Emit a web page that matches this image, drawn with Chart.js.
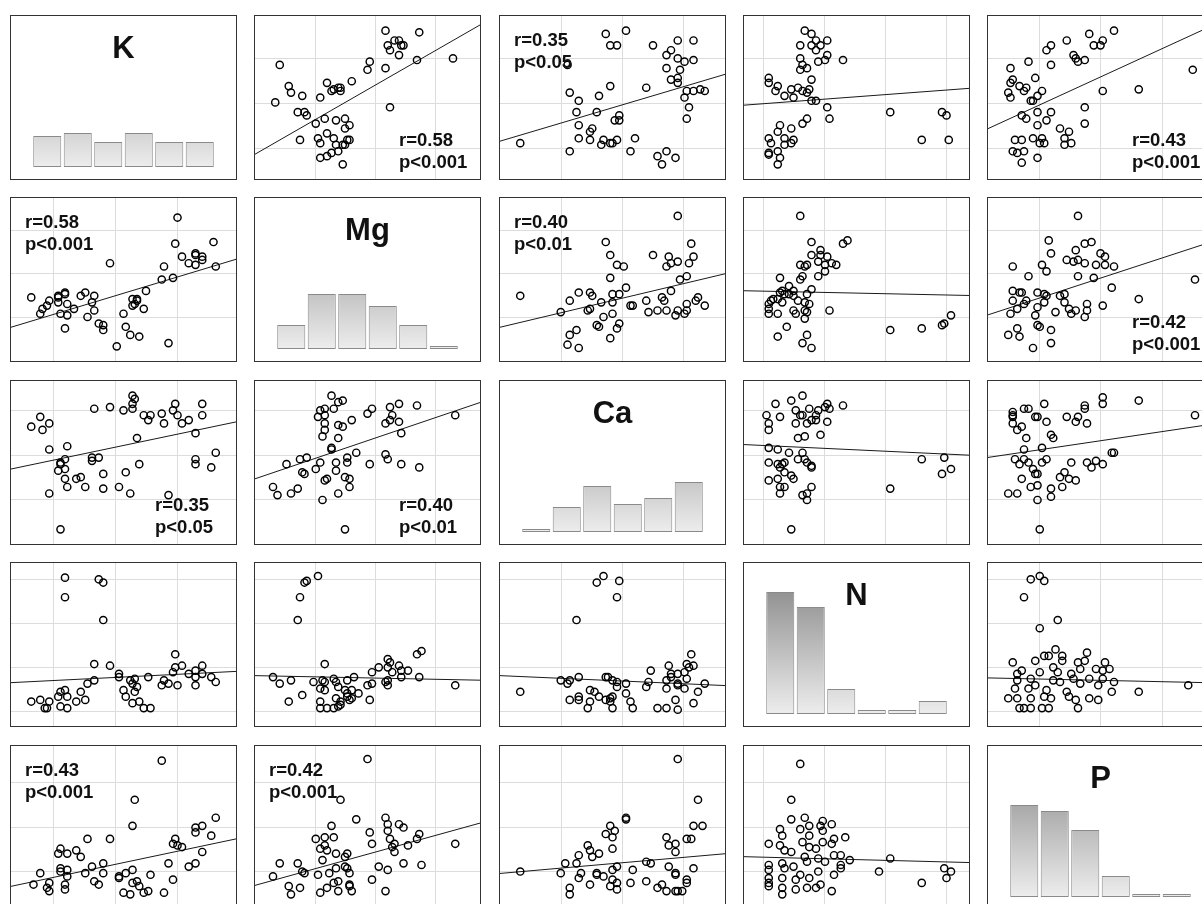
<!DOCTYPE html>
<html>
<head>
<meta charset="utf-8">
<script src="https://cdn.jsdelivr.net/npm/chart.js@4.4.0/dist/chart.umd.min.js"></script>
<style>
  body { margin: 0; background: #fff; width: 1202px; height: 904px; overflow: hidden; position: relative; }
  .cell { position: absolute; width: 227px; height: 165px; border: 1px solid #333; box-sizing: border-box; background: #fff; }
  .cell canvas { display: block; }
</style>
</head>
<body>
<script>
// matrix order
const vars = ['K', 'Mg', 'Ca', 'N', 'P'];

// gridline values on each variable axis (every axis runs 0..100)
const gridK = [19, 46.4, 73.8];
const gridMg = [26.8, 53.5, 80.3];
const gridCa = [27.5, 54.6, 81.7];
const gridN = [8.8, 35.8, 62.8, 89.8];
const gridP = [22.9, 50.2, 77.5];

// histogram bar heights (6 bins each)
const histK = [31, 34, 25, 34, 25, 25];
const histMg = [24, 55, 55, 43, 24, 3];
const histCa = [3, 25, 46, 28, 34, 50];
const histN = [122, 107, 25, 4, 4, 13];
const histP = [92, 86, 67, 21, 3, 3];

// scatter pairs, [x = column variable, y = row variable] for the upper triangle
const kMg = [[11,70],[15,57],[16,53],[9,47],[21,51],[29,50],[32,59],[34,54],[35,55],[37,56],[38,56],[38,54],[43,60],[50,67],[51,72],[58,91],[59,82],[60,79],[62,85],[64,85],[65,82],[66,82],[64,76],[73,90],[72,73],[58,68],[88,74],[60,44],[19,41],[22,41],[23,39],[27,34],[31,37],[36,36],[40,37],[42,33],[40,31],[32,28],[20,24],[28,25],[29,22],[35,25],[36,21],[40,21],[41,24],[42,24],[39,21],[29,13],[32,14],[34,16],[37,17],[39,9]];
const kCa = [[9,22],[31,17],[31,53],[35,48],[30,70],[34,41],[35,33],[35,25],[40,29],[41,31],[40,24],[44,51],[43,41],[45,21],[46,24],[49,22],[50,22],[52,24],[51,36],[53,36],[53,39],[49,57],[47,89],[49,82],[52,82],[56,91],[58,17],[60,25],[65,56],[68,82],[70,14],[74,17],[72,9],[78,13],[74,76],[76,79],[74,68],[79,85],[79,74],[80,67],[76,61],[79,62],[79,59],[83,54],[82,50],[84,44],[83,37],[82,72],[86,73],[86,85],[86,54],[89,55],[91,54]];
const kN = [[27,91],[30,89],[32,85],[37,85],[25,82],[30,82],[34,82],[32,79],[37,76],[25,74],[26,70],[25,67],[28,68],[33,72],[36,73],[44,73],[30,61],[11,62],[11,59],[15,57],[14,54],[18,51],[21,55],[22,50],[24,56],[26,54],[28,53],[29,55],[30,48],[32,48],[37,44],[38,37],[28,37],[26,34],[21,31],[16,33],[15,29],[11,25],[12,22],[18,25],[22,24],[21,22],[18,21],[15,17],[11,16],[11,15],[16,13],[15,9],[65,41],[79,24],[88,41],[90,39],[91,24]];
const kP = [[56,91],[45,89],[51,85],[47,82],[50,82],[35,85],[28,82],[26,79],[38,76],[39,74],[40,72],[43,73],[18,72],[28,70],[10,68],[11,61],[10,59],[14,57],[17,56],[16,54],[21,62],[24,54],[9,53],[10,50],[22,51],[20,48],[19,48],[51,54],[67,55],[91,67],[43,44],[43,34],[22,41],[28,41],[15,39],[17,37],[26,36],[22,33],[32,31],[36,29],[34,25],[34,21],[37,22],[20,25],[24,25],[23,22],[25,22],[12,24],[15,24],[11,17],[13,16],[16,17],[15,10],[22,13]];
const mgCa = [[9,40],[27,30],[31,37],[35,42],[40,42],[41,40],[39,31],[40,32],[45,36],[34,19],[31,16],[30,10],[35,8],[43,22],[44,21],[46,27],[49,14],[50,29],[52,20],[53,23],[50,36],[50,41],[53,41],[56,45],[49,51],[52,59],[55,58],[49,65],[47,73],[58,34],[59,34],[65,37],[66,30],[68,65],[70,31],[72,39],[73,37],[74,31],[76,43],[74,58],[76,60],[75,64],[79,61],[79,89],[78,28],[79,31],[82,29],[80,50],[83,52],[83,35],[83,31],[84,60],[86,64],[85,72],[87,37],[88,39],[91,34]];
const mgN = [[25,89],[30,73],[44,72],[46,74],[34,68],[30,65],[34,65],[37,64],[33,61],[36,59],[39,60],[41,59],[25,59],[27,58],[28,59],[36,55],[33,52],[26,52],[25,50],[16,51],[20,46],[30,44],[38,31],[28,41],[24,37],[27,36],[29,35],[22,43],[18,41],[16,42],[15,38],[17,36],[12,37],[11,35],[13,38],[11,32],[11,29],[15,29],[22,31],[23,29],[27,31],[28,30],[27,26],[19,21],[15,15],[28,16],[26,11],[30,8],[65,19],[79,20],[88,22],[89,23],[92,28],[20,41],[22,40],[17,43]];
const mgP = [[40,89],[27,74],[28,66],[24,59],[26,55],[11,58],[18,52],[39,68],[35,62],[38,61],[40,62],[43,60],[43,72],[46,73],[50,66],[52,64],[48,59],[52,59],[56,58],[40,52],[47,51],[55,45],[67,38],[92,50],[51,34],[44,35],[44,31],[43,27],[11,43],[11,37],[14,42],[15,42],[17,37],[16,35],[13,32],[10,29],[22,42],[25,41],[26,40],[25,36],[22,33],[21,28],[22,22],[23,21],[30,30],[32,40],[34,41],[34,36],[36,32],[39,31],[37,29],[13,20],[9,16],[14,15],[28,19],[28,11],[20,8]];
const caN = [[14,86],[21,88],[26,91],[23,82],[25,79],[26,79],[29,83],[33,82],[36,84],[37,86],[38,83],[44,85],[32,79],[10,79],[16,78],[11,74],[11,70],[23,74],[28,74],[30,76],[32,76],[37,75],[34,67],[24,65],[27,66],[11,59],[15,58],[20,56],[26,56],[27,52],[24,52],[28,50],[30,48],[30,47],[11,50],[15,49],[17,49],[18,50],[16,47],[18,44],[21,42],[22,40],[11,39],[15,40],[16,35],[18,35],[16,31],[26,30],[28,31],[30,35],[28,27],[21,9],[65,34],[79,52],[89,53],[92,46],[88,43]];
const caP = [[51,90],[51,86],[67,88],[92,79],[25,86],[16,83],[18,83],[11,81],[11,78],[11,74],[15,72],[13,70],[21,78],[22,78],[26,75],[35,78],[39,75],[40,78],[43,85],[43,83],[44,74],[17,65],[28,67],[29,65],[16,58],[24,59],[12,52],[16,52],[14,49],[18,50],[26,52],[24,50],[20,46],[21,43],[22,43],[15,40],[9,31],[13,31],[19,35],[22,36],[22,27],[28,34],[28,29],[32,41],[34,44],[33,35],[36,40],[39,39],[37,50],[44,50],[46,47],[48,51],[51,49],[55,56],[56,56],[23,9],[11,79]];
const nP = [[19,90],[23,92],[25,89],[16,79],[31,65],[23,60],[30,47],[44,45],[25,43],[27,43],[11,39],[21,40],[33,40],[40,39],[43,40],[52,39],[15,34],[23,33],[29,36],[31,33],[37,32],[41,35],[48,35],[51,34],[54,35],[13,28],[19,29],[32,27],[38,29],[45,29],[51,29],[56,27],[12,23],[18,23],[21,25],[26,22],[35,21],[41,26],[49,25],[9,17],[13,17],[19,17],[25,18],[28,17],[36,18],[39,16],[45,17],[49,16],[55,21],[14,11],[16,11],[19,11],[24,11],[27,11],[40,11],[67,21],[89,25],[13,32],[33,43],[29,28]];

// regression lines: [row, col, intercept, slope]
const fitLines = [
  [0,1,15.2,0.793],[0,2,23.2,0.41],[0,3,45.3,0.103],[0,4,30.9,0.634],
  [1,0,20.7,0.417],[1,2,20.7,0.328],[1,3,43.1,-0.029],[1,4,28.3,0.451],
  [2,0,46.0,0.289],[2,1,40.0,0.468],[2,3,61.0,-0.065],[2,4,53.1,0.205],
  [3,0,26.6,0.069],[3,1,30.9,-0.028],[3,2,30.9,-0.061],[3,4,29.5,-0.03],
  [4,0,13.9,0.291],[4,1,14.5,0.382],[4,2,21.8,0.121],[4,3,32.1,-0.036]
];

// correlation notes: [row, col, line1, line2]
const corrNotes = [
  [0,1,'r=0.58','p<0.001'],[0,2,'r=0.35','p<0.05'],[0,4,'r=0.43','p<0.001'],
  [1,0,'r=0.58','p<0.001'],[1,2,'r=0.40','p<0.01'],[1,4,'r=0.42','p<0.001'],
  [2,0,'r=0.35','p<0.05'],[2,1,'r=0.40','p<0.01'],
  [4,0,'r=0.43','p<0.001'],[4,1,'r=0.42','p<0.001']
];

const grids = [gridK, gridMg, gridCa, gridN, gridP];
const hists = [histK, histMg, histCa, histN, histP];
const pairs = {
  '0,1': kMg, '0,2': kCa, '0,3': kN, '0,4': kP,
  '1,2': mgCa, '1,3': mgN, '1,4': mgP,
  '2,3': caN, '2,4': caP, '3,4': nP
};

// layout
const colLeft = [10, 254, 499, 743, 987];
const rowTop = [15, 197, 380, 562, 745];
const noteLowerRight = ['0,1', '0,4', '1,4', '2,0', '2,1'];
const FONT = '"Liberation Sans", Arial, sans-serif';

function axis(g) {
  return {
    type: 'linear', min: 0, max: 100,
    ticks: { display: false },
    border: { display: false },
    grid: { color: '#dcdcdc', lineWidth: 1, drawTicks: false },
    afterBuildTicks: s => { s.ticks = g.map(v => ({ value: v })); }
  };
}

function makeCell(r, c) {
  const div = document.createElement('div');
  div.className = 'cell';
  div.style.left = colLeft[c] + 'px';
  div.style.top = rowTop[r] + 'px';
  const cv = document.createElement('canvas');
  cv.width = 225; cv.height = 163;
  div.appendChild(cv);
  document.body.appendChild(div);
  return cv;
}

function histPanel(cv, i) {
  new Chart(cv, {
    type: 'bar',
    data: {
      labels: ['1', '2', '3', '4', '5', '6'],
      datasets: [{
        data: hists[i],
        backgroundColor: ctx => {
          const a = ctx.chart.chartArea;
          if (!a) return '#ddd';
          const g = ctx.chart.ctx.createLinearGradient(0, 0, 0, 163);
          g.addColorStop(0, '#7d7d7d');
          g.addColorStop(1, '#f6f6f6');
          return g;
        },
        borderColor: '#8a8a8a',
        borderWidth: 1,
        borderSkipped: false,
        barPercentage: 0.92,
        categoryPercentage: 1
      }]
    },
    options: {
      responsive: false, animation: false,
      layout: { padding: { left: 21, right: 21, top: 0, bottom: 0 }, autoPadding: false },
      scales: { x: { display: false }, y: { display: false, min: -12, max: 151 } },
      plugins: { legend: { display: false }, tooltip: { enabled: false } }
    },
    plugins: [{
      id: 'varName',
      afterDraw(chart) {
        const ctx = chart.ctx;
        ctx.save();
        ctx.font = 'bold 31px ' + FONT;
        ctx.fillStyle = '#111';
        ctx.textAlign = 'center';
        ctx.textBaseline = 'alphabetic';
        ctx.fillText(vars[i], chart.width / 2, 42);
        ctx.restore();
      }
    }]
  });
}

function scatterPanel(cv, r, c) {
  const key = r < c ? r + ',' + c : c + ',' + r;
  const pts = pairs[key].map(p => r < c ? { x: p[0], y: p[1] } : { x: p[1], y: p[0] });
  const fit = fitLines.find(f => f[0] === r && f[1] === c);
  const note = corrNotes.find(n => n[0] === r && n[1] === c);
  new Chart(cv, {
    type: 'scatter',
    data: {
      datasets: [
        { data: pts, pointRadius: 3.6, pointBorderWidth: 1.45, pointBorderColor: '#000', pointBackgroundColor: 'rgba(0,0,0,0)', showLine: false },
        { data: [{ x: 0, y: fit[2] }, { x: 100, y: fit[2] + 100 * fit[3] }], showLine: true, borderColor: '#1a1a1a', borderWidth: 1, pointRadius: 0, fill: false }
      ]
    },
    options: {
      responsive: false, animation: false,
      layout: { padding: 0, autoPadding: false },
      scales: { x: axis(grids[c]), y: axis(grids[r]) },
      plugins: { legend: { display: false }, tooltip: { enabled: false } }
    },
    plugins: [{
      id: 'corr',
      afterDraw(chart) {
        if (!note) return;
        const ctx = chart.ctx;
        const lower = noteLowerRight.includes(r + ',' + c);
        const x = lower ? 144 : 14;
        const y1 = lower ? 129.5 : 29.5;
        ctx.save();
        ctx.font = 'bold 18.5px ' + FONT;
        ctx.fillStyle = '#111';
        ctx.textAlign = 'left';
        ctx.fillText(note[2], x, y1);
        ctx.fillText(note[3], x, y1 + 22);
        ctx.restore();
      }
    }]
  });
}

for (let r = 0; r < 5; r++) {
  for (let c = 0; c < 5; c++) {
    const cv = makeCell(r, c);
    if (r === c) histPanel(cv, r);
    else scatterPanel(cv, r, c);
  }
}
</script>
</body>
</html>
